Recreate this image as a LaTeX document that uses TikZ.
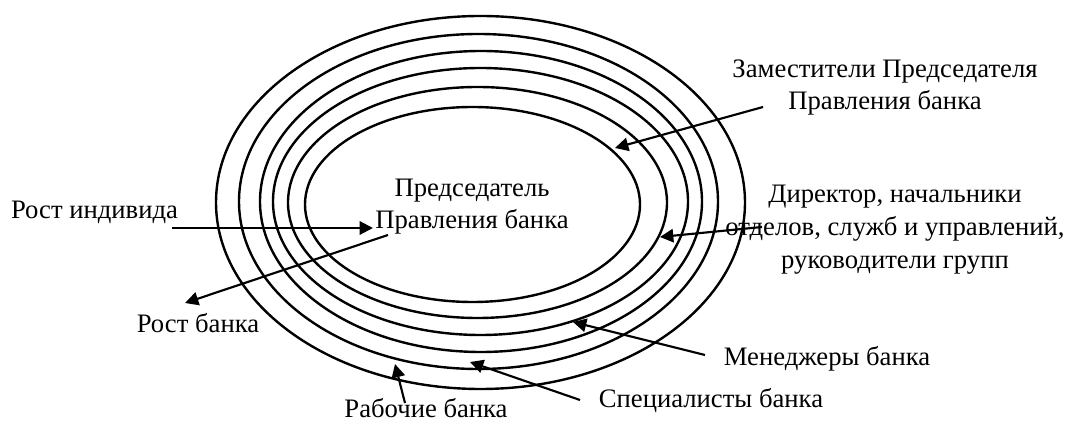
\documentclass[tikz,border=0pt]{standalone}
\usepackage{fontspec}
\setmainfont{Liberation Serif}
\usetikzlibrary{arrows.meta}
\begin{document}
\begin{tikzpicture}[x=0.75pt,y=-0.75pt,
  ring/.style={line width=1.8pt},
  pointer/.style={line width=1.6pt,-{Triangle[length=10pt,width=10pt]}},
  txt/.style={font=\fontsize{20}{24.5}\selectfont,inner sep=0pt},
  txtblock/.style={txt,align=center}]
\useasboundingbox (0,0) rectangle (1068,423);

% concentric levels of the bank hierarchy, innermost first
\draw[ring] (472.5,204.5) ellipse [x radius=167.5, y radius=97.5];
\draw[ring] (477.5,202.5) ellipse [x radius=189.5, y radius=115.5];
\draw[ring] (480.5,201.5) ellipse [x radius=207.5, y radius=133.5];
\draw[ring] (481,201.5)   ellipse [x radius=221,   y radius=150.5];
\draw[ring] (478.5,201.5) ellipse [x radius=239.5, y radius=167.5];
\draw[ring] (480.5,202.5) ellipse [x radius=264.5, y radius=186.5];

% labels
\node[txtblock] (chair)  at (472,206.5) {Председатель\\Правления банка};
\node[txtblock] (deputy) at (885,87.5)  {Заместители Председателя\\Правления банка};
\node[txtblock] (direct) at (895,229.5) {Директор, начальники\\отделов, служб и управлений,\\руководители групп};
\node[txt] (manager) at (827,359)   {Менеджеры банка};
\node[txt] (spec)    at (711,401)   {Специалисты банка};
\node[txt] (worker)  at (426,408)   {Рабочие банка};
\node[txt] (indiv)   at (94.5,212)  {Рост индивида};
\node[txt] (growth)  at (198,323)   {Рост банка};

% arrow ends
\coordinate (indivA)   at (172,228);
\coordinate (indivB)   at (373,228);
\coordinate (growthA)  at (388,235);
\coordinate (growthB)  at (185,303);
\coordinate (deputyA)  at (763,107);
\coordinate (deputyB)  at (615,148);
\coordinate (directA)  at (762,227);
\coordinate (directB)  at (660,237);
\coordinate (managerA) at (705,355);
\coordinate (managerB) at (573,322);
\coordinate (specA)    at (580,400);
\coordinate (specB)    at (470,362);
\coordinate (workerA)  at (405,403);
\coordinate (workerB)  at (395,364);

\draw[pointer] (indivA) -- (indivB);
\draw[pointer] (growthA) -- (growthB);
\draw[pointer] (deputyA) -- (deputyB);
\draw[pointer] (directA) -- (directB);
\draw[pointer] (managerA) -- (managerB);
\draw[pointer] (specA) -- (specB);
\draw[pointer] (workerA) -- (workerB);
\end{tikzpicture}
\end{document}
